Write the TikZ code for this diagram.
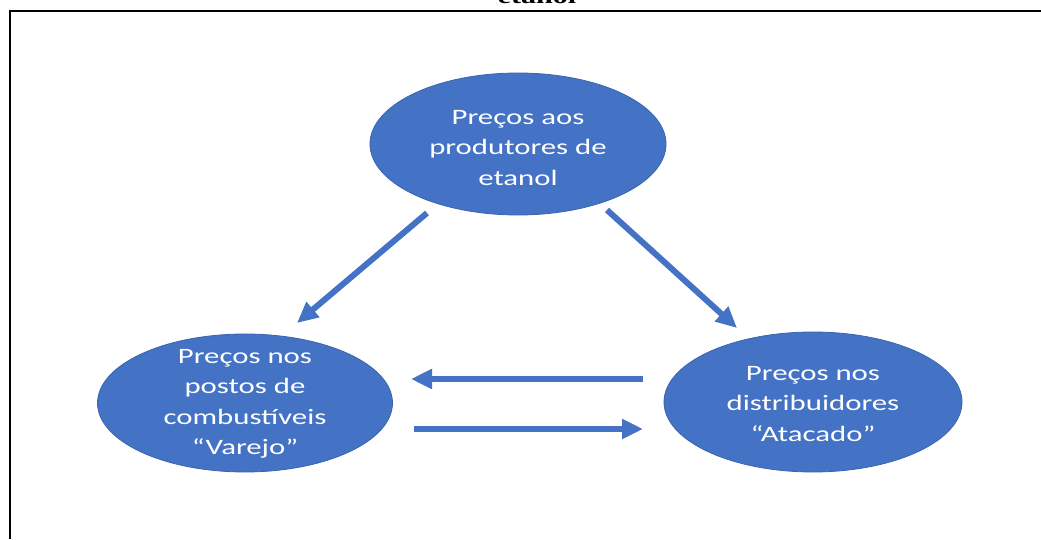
\documentclass[tikz,border=0pt]{standalone}
\usepackage{fontspec}
\setmainfont[FakeStretch=1.4]{Carlito}
\newfontfamily\capfont[FakeStretch=1.4]{Liberation Serif}
\usetikzlibrary{arrows.meta,shapes.geometric}
\definecolor{officeblue}{HTML}{4472C4}
\definecolor{edgeblue}{HTML}{3A64AE}
\begin{document}
\begin{tikzpicture}[x=1pt,y=1pt,
  bubble/.style={ellipse,fill=officeblue,draw=edgeblue,line width=0.8pt,inner sep=0pt,minimum width=296pt,minimum height=140pt},
  txt/.style={text=white,align=center,font=\fontsize{22}{30.5}\selectfont},
  flow/.style={draw=officeblue,line width=6pt,-{Triangle[length=21pt,width=19pt]}}]

\useasboundingbox (0,0) rectangle (1041,539);
\draw[line width=1.8pt] (10.3,0) -- (10.3,528) -- (1041,528);
  \node[anchor=base,font=\capfont\bfseries\fontsize{21.5}{26}\selectfont] (cap) at (537,535) {etanol};
  \node[bubble,minimum height=142pt,label={[txt,yshift=-4pt]center:{Preços aos\\produtores de\\etanol}}] (prod) at (518,395) {};
  \node[bubble,minimum width=295pt,minimum height=138pt,label={[txt,yshift=-1pt]center:{Preços nos\\postos de\\combustíveis\\“Varejo”}}] (posto) at (245,136) {};
  \node[bubble,minimum width=298pt,label={[txt,yshift=-2pt]center:{Preços nos\\distribuidores\\“Atacado”}}] (distr) at (813,137) {};
  \draw[flow] ([shift={(-91,-69)}]prod.center) -- ([shift={(52,80)}]posto.center);
  \draw[flow] ([shift={(89,-66)}]prod.center) -- ([shift={(-76,74)}]distr.center);
  \draw[flow] ([shift={(-170,23)}]distr.center) -- ([shift={(166,24)}]posto.center);
  \draw[flow] ([shift={(169,-26)}]posto.center) -- ([shift={(-170,-27)}]distr.center);
 \end{tikzpicture}
\end{document}
